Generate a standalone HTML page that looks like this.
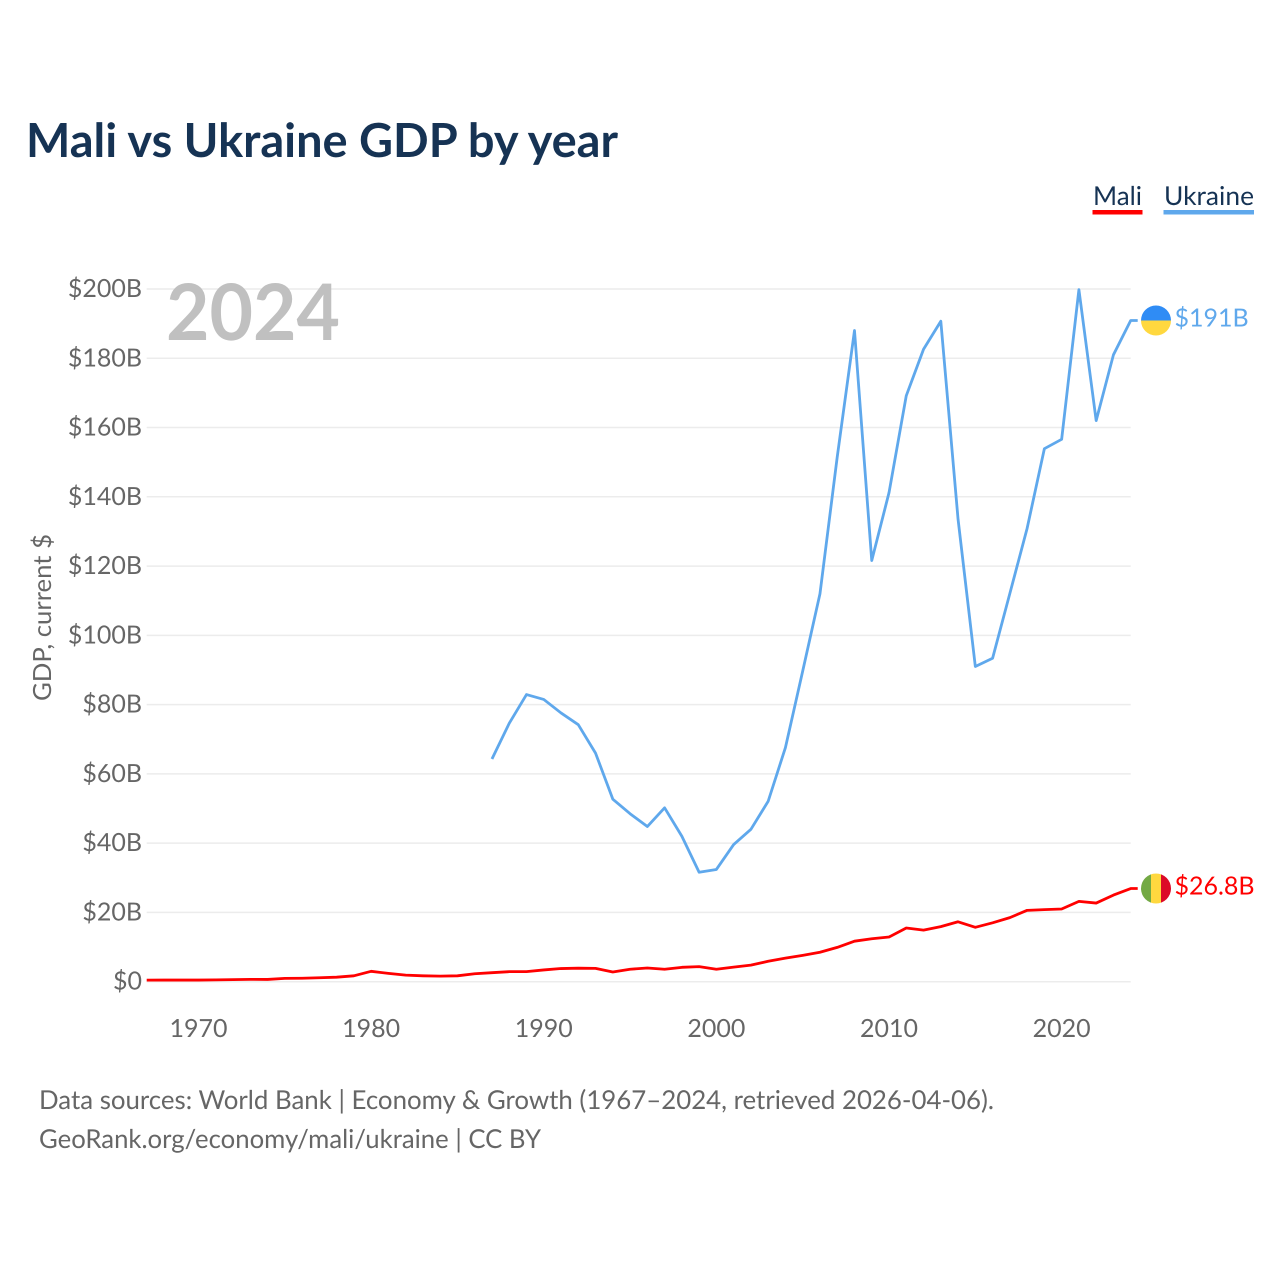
<!DOCTYPE html>
<html lang="en">
<head>
<meta charset="utf-8">
<title>Mali vs Ukraine GDP by year</title>
<style>
  html, body { margin: 0; padding: 0; background: #ffffff; }
  svg { display: block; }
  text { font-family: "Lato", "Carlito", "Liberation Sans", sans-serif; text-rendering: geometricPrecision; }
</style>
</head>
<body>
<svg id="chart" xmlns="http://www.w3.org/2000/svg" width="1280" height="1280" viewBox="0 0 1280 1280">
  <rect x="0" y="0" width="1280" height="1280" fill="#ffffff"/>
  <text x="26" y="157" font-size="47" font-weight="700" fill="#163354" textLength="592" lengthAdjust="spacingAndGlyphs">Mali vs Ukraine GDP by year</text>

  <g>
    <g>
      <text x="1093" y="205" font-size="26" fill="#163354" textLength="49" lengthAdjust="spacingAndGlyphs">Mali</text>
      <rect x="1092.5" y="210" width="50" height="4.5" fill="#ff0000"/>
    </g>
    <g>
      <text x="1164" y="205" font-size="26" fill="#163354" textLength="90" lengthAdjust="spacingAndGlyphs">Ukraine</text>
      <rect x="1163.5" y="210" width="90.5" height="4.5" fill="#5fa8ec"/>
    </g>
  </g>

  <text transform="translate(51,701) rotate(-90)" font-size="25" fill="#666666" textLength="167" lengthAdjust="spacingAndGlyphs">GDP, current $</text>
  <g id="grid"></g>
  <g id="y-ticks"></g>
  <g id="x-ticks"></g>
  <text x="166" y="340" font-size="78" font-weight="700" fill="#c0c0c0" textLength="174" lengthAdjust="spacingAndGlyphs">2024</text>
  <g id="series"></g>
  <g id="ends"></g>

  <text x="39" y="1109" font-size="26" fill="#666666" textLength="955" lengthAdjust="spacingAndGlyphs">Data sources: World Bank | Economy &amp; Growth (1967–2024, retrieved 2026-04-06).</text>
  <text x="39" y="1148" font-size="26" fill="#666666" textLength="502" lengthAdjust="spacingAndGlyphs">GeoRank.org/economy/mali/ukraine | CC BY</text>
</svg>
<script>
const years = [1967,1968,1969,1970,1971,1972,1973,1974,1975,1976,1977,1978,1979,1980,1981,1982,1983,1984,1985,1986,1987,1988,1989,1990,1991,1992,1993,1994,1995,1996,1997,1998,1999,2000,2001,2002,2003,2004,2005,2006,2007,2008,2009,2010,2011,2012,2013,2014,2015,2016,2017,2018,2019,2020,2021,2022,2023,2024];
const maliValues = [0.45,0.47,0.48,0.48,0.52,0.6,0.68,0.65,0.95,1.0,1.15,1.3,1.7,3.0,2.4,1.9,1.7,1.6,1.7,2.3,2.6,2.9,2.9,3.4,3.8,3.9,3.85,2.8,3.6,3.95,3.6,4.15,4.35,3.6,4.2,4.8,5.9,6.8,7.6,8.5,9.9,11.7,12.4,12.9,15.5,14.9,15.9,17.3,15.7,17.0,18.5,20.6,20.8,21.0,23.2,22.7,25.0,26.9];
const ukraineValues = [null,null,null,null,null,null,null,null,null,null,null,null,null,null,null,null,null,null,null,null,64.3,74.6,82.9,81.5,77.6,74.2,66,52.7,48.5,44.8,50.2,42,31.6,32.4,39.6,44,52.1,67.6,89.7,112,151.5,188,121.6,141.2,169.2,182.6,190.7,133.5,91,93.4,112.1,130.9,153.9,156.6,199.8,162,181,190.9];
const yTickValues = [0,20,40,60,80,100,120,140,160,180,200];
const yTickLabels = ['$0','$20B','$40B','$60B','$80B','$100B','$120B','$140B','$160B','$180B','$200B'];
const xTickValues = [1970,1980,1990,2000,2010,2020];
const maliEndLabel = '$26.8B';
const ukraineEndLabel = '$191B';

const NS = 'http://www.w3.org/2000/svg';
const xScale = function (year) { return 146.7 + (year - 1967) * (1130.7 - 146.7) / (2024 - 1967); };
const yScale = function (value) { return 981.7 - value * (981.7 - 289) / 200; };

function make(tag, attrs, parent, content) {
  const el = document.createElementNS(NS, tag);
  Object.keys(attrs).forEach(function (k) { el.setAttribute(k, attrs[k]); });
  if (content !== undefined) el.textContent = content;
  parent.appendChild(el);
  return el;
}

const gridGroup = document.getElementById('grid');
const yGroup = document.getElementById('y-ticks');
yTickValues.forEach(function (v, i) {
  const line = make('line', { x1: 146.7, x2: 1130.7, y1: yScale(v), y2: yScale(v), stroke: '#ececec', 'stroke-width': 1.5 }, gridGroup);
  
  
  const label = make('text', { x: 142, y: yScale(v) + 8, 'text-anchor': 'end', 'font-size': 25, fill: '#666666' }, yGroup, yTickLabels[i]);
  
  
});

const xGroup = document.getElementById('x-ticks');
xTickValues.forEach(function (y) {
  const label = make('text', { x: xScale(y), y: 1037, 'text-anchor': 'middle', 'font-size': 25, fill: '#666666' }, xGroup, String(y));
  
  
});

function linePath(values) {
  let d = '';
  let lastX = 0;
  let lastY = 0;
  values.forEach(function (v, i) {
    if (v === null) return;
    lastX = xScale(years[i]);
    lastY = yScale(v);
    d += (d ? 'L' : 'M') + lastX.toFixed(2) + ' ' + lastY.toFixed(2);
  });
  return { d: d + 'L' + (lastX + 7).toFixed(2) + ' ' + lastY.toFixed(2), y: lastY };
}

const seriesGroup = document.getElementById('series');
const endsGroup = document.getElementById('ends');

const maliPath = linePath(maliValues);
const ukrainePath = linePath(ukraineValues);

const ukraineLine = make('path', { d: ukrainePath.d, fill: 'none', stroke: '#5fa8ec', 'stroke-width': 2.8, 'stroke-linejoin': 'round' }, seriesGroup);



const maliLine = make('path', { d: maliPath.d, fill: 'none', stroke: '#ff0000', 'stroke-width': 2.8, 'stroke-linejoin': 'round' }, seriesGroup);



const flagX = 1156;
const flagR = 15;

const ukraineFlag = make('g', {}, endsGroup);


make('path', { d: 'M' + (flagX - flagR) + ' ' + ukrainePath.y + 'A' + flagR + ' ' + flagR + ' 0 0 1 ' + (flagX + flagR) + ' ' + ukrainePath.y + 'Z', fill: '#2f8cf5' }, ukraineFlag);
make('path', { d: 'M' + (flagX - flagR) + ' ' + ukrainePath.y + 'A' + flagR + ' ' + flagR + ' 0 0 0 ' + (flagX + flagR) + ' ' + ukrainePath.y + 'Z', fill: '#ffd83f' }, ukraineFlag);

const ukraineEnd = make('text', { x: 1174.5, y: ukrainePath.y + 6, 'font-size': 25, fill: '#5fa8ec' }, endsGroup, ukraineEndLabel);



const maliFlag = make('g', {}, endsGroup);


const clip = make('clipPath', { id: 'mali-clip' }, maliFlag);
make('circle', { cx: flagX, cy: maliPath.y, r: flagR }, clip);
const maliBands = make('g', { 'clip-path': 'url(#mali-clip)' }, maliFlag);
make('rect', { x: flagX - flagR, y: maliPath.y - flagR, width: 10, height: 2 * flagR, fill: '#73a944' }, maliBands);
make('rect', { x: flagX - flagR + 10, y: maliPath.y - flagR, width: 10, height: 2 * flagR, fill: '#ffd83f' }, maliBands);
make('rect', { x: flagX - flagR + 20, y: maliPath.y - flagR, width: 10, height: 2 * flagR, fill: '#dc0a27' }, maliBands);

const maliEnd = make('text', { x: 1174.5, y: maliPath.y + 6, 'font-size': 25, fill: '#ff0000' }, endsGroup, maliEndLabel);


</script>
</body>
</html>
